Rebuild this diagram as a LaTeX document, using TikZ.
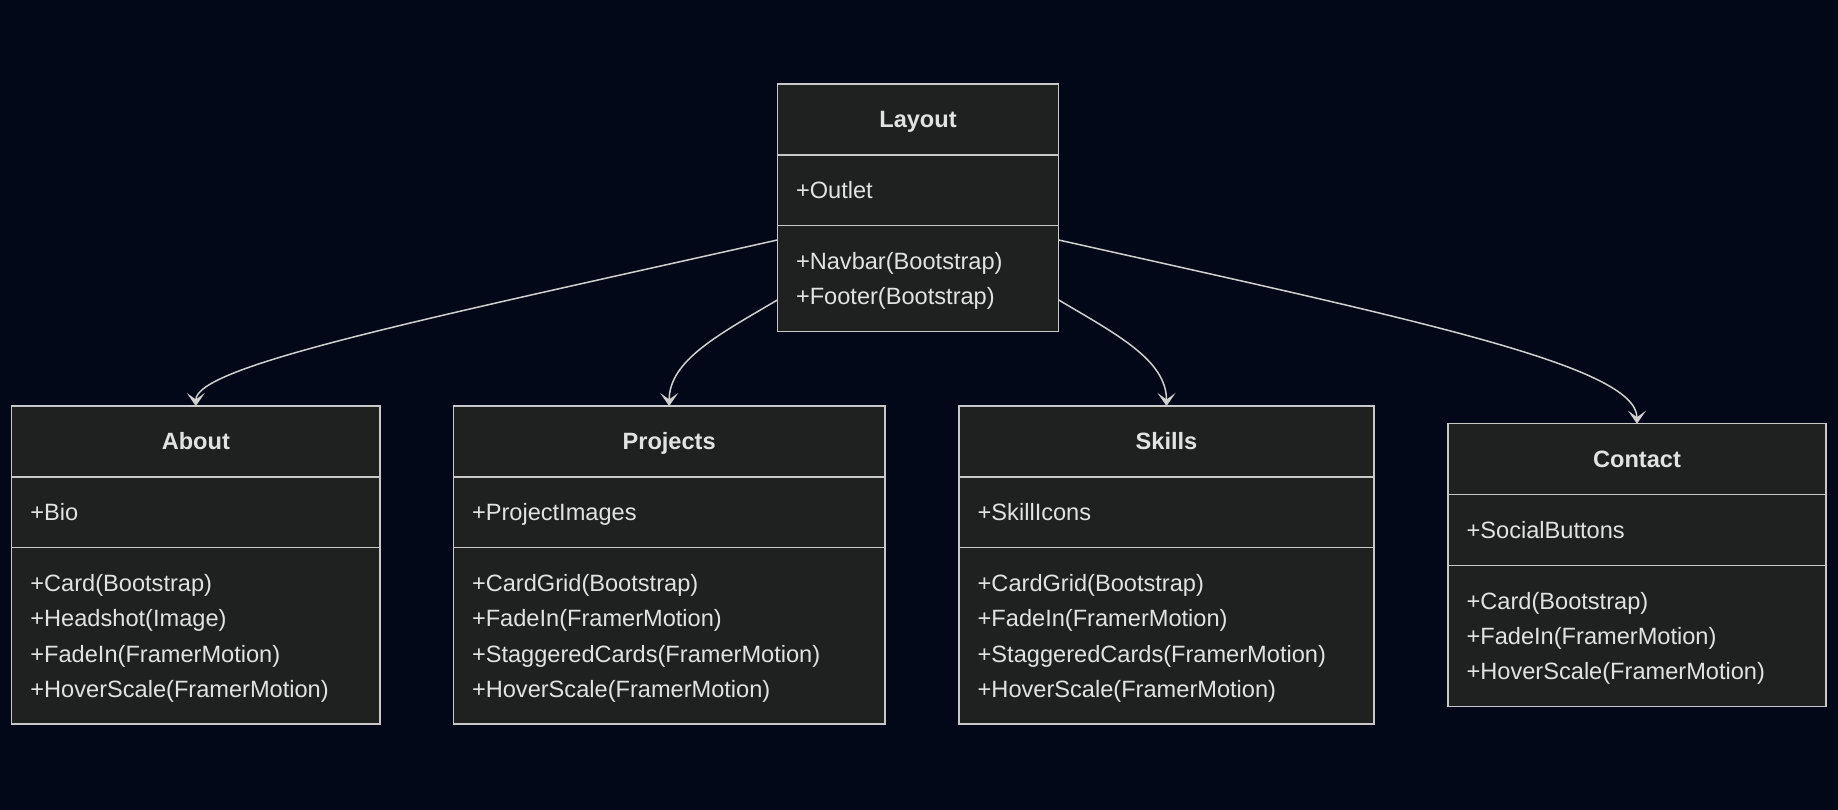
\documentclass[tikz,border=0pt]{standalone}
\usepackage{fontspec}
\setmainfont{Liberation Sans}
\usetikzlibrary{arrows.meta}

\definecolor{canvasbg}{RGB}{2,8,23}
\definecolor{boxfill}{HTML}{1F2020}
\definecolor{boxline}{HTML}{C8C8C8}
\definecolor{edgeline}{HTML}{D0D0D0}
\definecolor{labeltext}{HTML}{E2E2E2}

\tikzset{
  classbox/.style={draw=boxline, fill=boxfill, line width=1.5pt, rectangle,
    inner sep=0pt, outer sep=0pt, anchor=north west},
  divider/.style={draw=boxline, line width=1.5pt},
  titletext/.style={text=labeltext, font=\fontsize{23.6pt}{28pt}\selectfont\bfseries,
    anchor=base, inner sep=0pt},
  membertext/.style={text=labeltext, font=\fontsize{23.6pt}{28pt}\selectfont,
    anchor=base west, inner sep=0pt},
  assoc/.style={draw=edgeline, line width=1.5pt,
    -{Stealth[length=13pt, width=18pt, inset=6.5pt]}},
}

% One UML class box: name, left, top, width, title, attribute, methods, method count
\newcommand\umlclass[8]{%
  \pgfmathsetmacro\boxh{71+70.6+35.3*(#8+1)}
  \node[classbox, minimum width=#4pt, minimum height=\boxh pt] (#1) at (#2,#3) {};
  \draw[divider] ([yshift=-71pt]#1.north west) -- ([yshift=-71pt]#1.north east);
  \draw[divider] ([yshift=-141.6pt]#1.north west) -- ([yshift=-141.6pt]#1.north east);
  \node[titletext] (#1-title) at ([yshift=-43.8pt]#1.north) {#5};
  \node[membertext] (#1-attr) at ([xshift=18.5pt, yshift=-114.5pt]#1.north west) {#6};
  \foreach \m [count=\i] in {#7} {
    \pgfmathsetmacro\mdrop{141.6+35+8.8+35.3*(\i-1)}
    \node[membertext] (#1-m\i) at ([xshift=18.5pt, yshift=-\mdrop pt]#1.north west) {\m};
  }
}

\begin{document}
\begin{tikzpicture}[x=1pt, y=-1pt]
  \fill[canvasbg] (0,0) rectangle (1838,810);
  \useasboundingbox (0,0) rectangle (1838,810);

  \umlclass{layout}{777.3}{84}{281.4}{Layout}{+Outlet}
    {+Navbar(Bootstrap), +Footer(Bootstrap)}{2}
  \umlclass{about}{11.7}{406}{368.3}{About}{+Bio}
    {+Card(Bootstrap), +Headshot(Image), +FadeIn(FramerMotion), +HoverScale(FramerMotion)}{4}
  \umlclass{projects}{453.3}{406}{431.7}{Projects}{+ProjectImages}
    {+CardGrid(Bootstrap), +FadeIn(FramerMotion), +StaggeredCards(FramerMotion), +HoverScale(FramerMotion)}{4}
  \umlclass{skills}{959}{406}{415}{Skills}{+SkillIcons}
    {+CardGrid(Bootstrap), +FadeIn(FramerMotion), +StaggeredCards(FramerMotion), +HoverScale(FramerMotion)}{4}
  \umlclass{contact}{1447.9}{423.7}{378.1}{Contact}{+SocialButtons}
    {+Card(Bootstrap), +FadeIn(FramerMotion), +HoverScale(FramerMotion)}{3}

  % associations from Layout to each page
  \draw[assoc] ([yshift=-156pt]layout.north west)
    .. controls (420,320) and (195.8,366) .. (about.north);
  \draw[assoc] ([yshift=-216pt]layout.north west)
    .. controls (720,334) and (669.2,360) .. (projects.north);
  \draw[assoc] ([yshift=-216pt]layout.north east)
    .. controls (1116,334) and (1166.5,360) .. (skills.north);
  \draw[assoc] ([yshift=-156pt]layout.north east)
    .. controls (1415.7,320) and (1637,366) .. (contact.north);
\end{tikzpicture}
\end{document}
